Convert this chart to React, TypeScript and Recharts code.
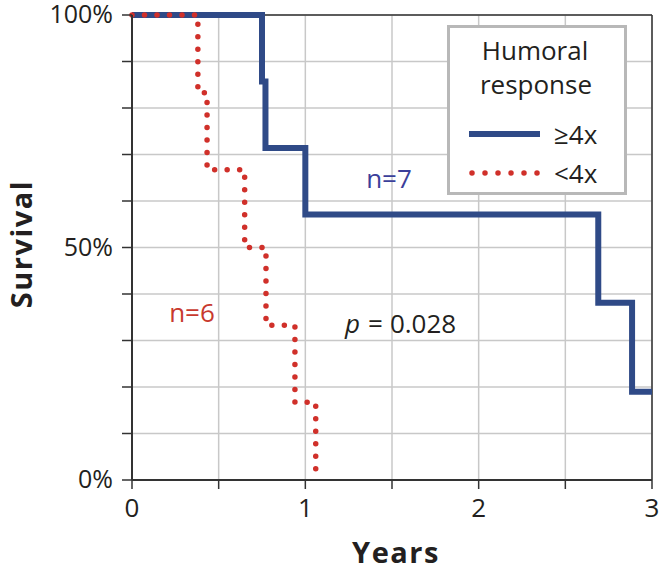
import { CartesianGrid, Legend, Line, LineChart, ReferenceLine, XAxis, YAxis } from 'recharts';

// Kaplan-Meier steps
const highYears = [0, 0.75, 0.77, 1.0, 2.69, 2.885, 3.0];
const highSurvival = [100, 85.7, 71.4, 57.1, 38.1, 19.0, 19.0];
const lowYears = [0, 0.38, 0.433, 0.65, 0.773, 0.94, 1.06];
const lowSurvival = [100, 83.3, 66.7, 50, 33.3, 16.7, 0];

const seriesNames = ['≥4x', '<4x'];
const xTicks = [0, 0.5, 1, 1.5, 2, 2.5, 3];
const yTicks = [0, 10, 20, 30, 40, 50, 60, 70, 80, 90, 100];
const yLabels = [0, 50, 100];

const highData = highYears.map((t, i) => ({ t, s: highSurvival[i] }));
const lowData = lowYears.map((t, i) => ({ t, s: lowSurvival[i] }));

const BLUE = '#2f4a87';
const RED = '#d0302a';
const INK = '#231f20';
const FONT = '"Open Sans", sans-serif';

function XTick({ x, y, payload }: any) {
  const v = payload.value;
  if (!Number.isInteger(v)) return null;
  return (
    <text x={x} y={y + 22} textAnchor="middle" fontFamily={FONT} fontSize={26} fill={INK}>
      {v}
    </text>
  );
}

function YTick({ x, y, payload }: any) {
  const v = payload.value;
  if (!yLabels.includes(v)) return null;
  return (
    <text x={x} y={y + 8} textAnchor="end" fontFamily={FONT} fontSize={25} fill={INK}>
      {`${v}%`}
    </text>
  );
}

function LegendBox(props: any) {
  const payload = props.payload || [];
  // keep the series order of the figure, not the sorted one
  const items = seriesNames.map((name) => payload.find((p: any) => p.value === name)).filter(Boolean);
  return (
    <svg width={180} height={170} style={{ display: 'block' }}>
      <rect x={1.5} y={1.5} width={177} height={167} fill="#fff" stroke="#b8b8b8" strokeWidth={3} />
      <text x={88} y={35} textAnchor="middle" fontFamily={FONT} fontSize={26} fill={INK}>Humoral</text>
      <text x={89} y={69} textAnchor="middle" fontFamily={FONT} fontSize={26} fill={INK}>response</text>
      {items.map((it: any, i: number) => {
        const y = 109 + i * 39;
        const dotted = i === 1;
        return (
          <g key={i}>
            <line
              x1={dotted ? 25 : 22}
              x2={dotted ? 91 : 93}
              y1={y}
              y2={y}
              stroke={it.color}
              strokeWidth={dotted ? 5.5 : 6}
              strokeDasharray={dotted ? '0 13' : undefined}
              strokeLinecap={dotted ? 'round' : 'butt'}
            />
            <text x={107} y={y + 10} fontFamily={FONT} fontSize={26} fill={INK}>{it.value}</text>
          </g>
        );
      })}
    </svg>
  );
}

export default function App() {
  return (
    <div style={{ position: 'absolute', left: 0, top: 0, background: '#fff' }}>
      <LineChart width={664} height={571} margin={{ top: 15, right: 12, left: 0, bottom: 0 }}>
        <CartesianGrid stroke="#c8c8c8" strokeWidth={1.5} />
        <XAxis
          dataKey="t"
          type="number"
          domain={[0, 3]}
          ticks={xTicks}
          height={91}
          allowDuplicatedCategory={false}
          tick={<XTick />}
          tickSize={9}
          tickMargin={6}
          axisLine={{ stroke: '#333', strokeWidth: 2 }}
          tickLine={{ stroke: '#333', strokeWidth: 1.5 }}
        />
        <YAxis
          type="number"
          domain={[0, 100]}
          ticks={yTicks}
          width={132}
          tick={<YTick />}
          tickSize={10}
          tickMargin={9}
          axisLine={{ stroke: '#333', strokeWidth: 2 }}
          tickLine={{ stroke: '#333', strokeWidth: 1.5 }}
        />
        <ReferenceLine y={100} stroke="#333" strokeWidth={1.5} />
        <ReferenceLine x={3} stroke="#333" strokeWidth={1.5} />
        <Legend
          layout="vertical"
          verticalAlign="middle"
          align="center"
          wrapperStyle={{ left: 447, top: 25, width: 180, height: 170 }}
          content={LegendBox}
        />
        <Line
          data={highData}
          dataKey="s"
          name={seriesNames[0]}
          type="stepAfter"
          stroke={BLUE}
          strokeWidth={6}
          dot={false}
          activeDot={false}
          isAnimationActive={false}
        />
        <Line
          data={lowData}
          dataKey="s"
          name={seriesNames[1]}
          type="stepAfter"
          stroke={RED}
          strokeWidth={5.5}
          strokeDasharray="0 12.5"
          strokeLinecap="round"
          dot={false}
          activeDot={false}
          isAnimationActive={false}
        />
        <text x={389} y={188} textAnchor="middle" fontFamily={FONT} fontSize={26} fill="#3b3f9a">n=7</text>
        <text x={192} y={322} textAnchor="middle" fontFamily={FONT} fontSize={26} fill="#c8392e">n=6</text>
        <text x={345} y={333} fontFamily={FONT} fontSize={26} fill={INK}>
          <tspan fontStyle="italic">p</tspan>
          <tspan dx={8}>=</tspan>
          <tspan dx={7}>0.028</tspan>
        </text>
        <text x={396} y={563} textAnchor="middle" fontFamily={FONT} fontSize={29} fontWeight="bold" letterSpacing={1.5} fill={INK}>Years</text>
        <text
          x={32}
          y={244}
          textAnchor="middle"
          fontFamily={FONT}
          fontSize={29}
          fontWeight="bold"
          letterSpacing={1.5}
          fill={INK}
          transform="rotate(-90, 32, 244)"
        >
          Survival
        </text>
      </LineChart>
    </div>
  );
}
